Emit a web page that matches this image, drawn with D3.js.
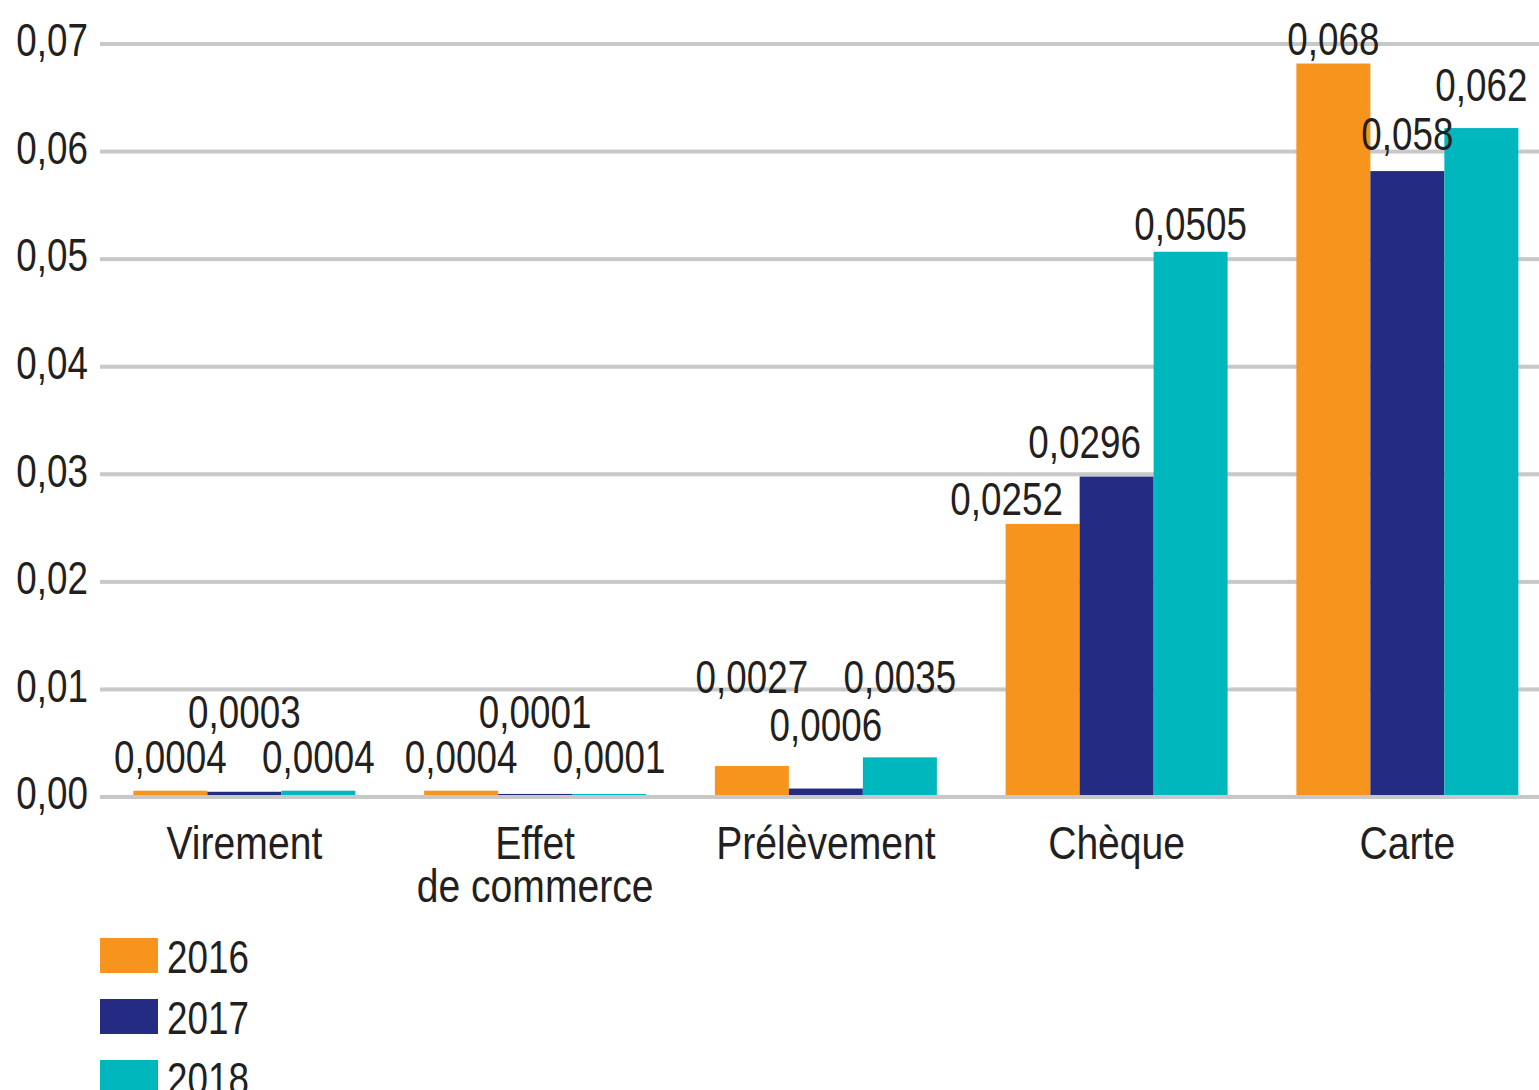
<!DOCTYPE html>
<html>
<head>
<meta charset="utf-8">
<script src="https://cdn.jsdelivr.net/npm/d3@7"></script>
<style>
  html, body { margin: 0; padding: 0; background: #ffffff; }
  svg { display: block; }
  text { font-family: "Liberation Sans", Arial, sans-serif; fill: #231f20; }
</style>
</head>
<body>
<svg id="chart" width="1539" height="1090"></svg>
<script>
// Payment instruments (category labels, "\n" splits a label over two lines)
const categories = ["Virement", "Effet\nde commerce", "Prélèvement", "Chèque", "Carte"];
const years = ["2016", "2017", "2018"];
const values2016 = [0.0004, 0.0004, 0.0027, 0.0252, 0.068];
const values2017 = [0.0003, 0.0001, 0.0006, 0.0296, 0.058];
const values2018 = [0.0004, 0.0001, 0.0035, 0.0505, 0.062];
const yTicks = [0, 0.01, 0.02, 0.03, 0.04, 0.05, 0.06, 0.07];
const colors = ["#f7941d", "#232b83", "#00b7bd"];

// Placement of each value label: [dx from bar centre, baseline height above bar top]
const labelOffsets = [
  [[0, 18], [0, 18], [0, 73], [-36, 9], [0, 9]],
  [[0, 64], [0, 66], [0, 48], [-32, 19], [0, 21]],
  [[0, 18], [0, 21], [0, 64], [0, 12], [0, 27]]
];

const series = [values2016, values2017, values2018];
const rows = categories.map((c, i) => ({ category: c, values: series.map(s => s[i]) }));

const fr = d3.formatLocale({ decimal: ",", thousands: " ", grouping: [3], currency: ["", " €"] });
const tickFmt = fr.format(".2f");
const valueFmt = fr.format("~g");

const FONT = 46;
const NUM_SQUEEZE = 0.8;   // condensed face look for figures
const WORD_SQUEEZE = 0.85; // and for words

// Narrow the glyphs of a text (or tspan) horizontally
function condense(sel, f) {
  sel.each(function () {
    const w = this.getComputedTextLength();
    this.setAttribute("textLength", (w * f).toFixed(2));
    this.setAttribute("lengthAdjust", "spacingAndGlyphs");
  });
}

const svg = d3.select("#chart");

const y = d3.scaleLinear().domain([0, 0.07]).range([795, 42]);
const x0 = d3.scaleBand().domain(categories).range([99, 1552.75]).paddingInner(0.2365).paddingOuter(0.2365 / 2);
const x1 = d3.scaleBand().domain(years).range([0, x0.bandwidth()]);

// Horizontal grid
svg.append("g").selectAll("rect").data(yTicks).join("rect")
  .attr("x", 100).attr("width", 1539 - 100)
  .attr("y", d => y(d)).attr("height", 4)
  .attr("fill", "#c8c8c8");

// Y axis labels
const yAxis = svg.append("g").attr("transform", "translate(88,0)")
  .call(d3.axisLeft(y).tickValues(yTicks).tickFormat(tickFmt).tickSize(0).tickPadding(0));
yAxis.select(".domain").remove();
yAxis.selectAll("text")
  .attr("font-size", FONT)
  .attr("font-family", null)
  .attr("fill", null)
  .attr("dy", "0.3em")
  .call(condense, NUM_SQUEEZE);

// Bars
const groups = svg.append("g").selectAll("g").data(rows).join("g")
  .attr("transform", d => `translate(${x0(d.category)},0)`);

groups.selectAll("rect").data(d => d.values.map((v, k) => ({ v, k }))).join("rect")
  .attr("x", d => x1(years[d.k]))
  .attr("width", x1.bandwidth())
  .attr("y", d => y(d.v))
  .attr("height", d => y(0) - y(d.v))
  .attr("fill", d => colors[d.k]);

// Value labels
groups.each(function (row, ci) {
  d3.select(this).selectAll("text").data(row.values.map((v, k) => ({ v, k }))).join("text")
    .attr("x", d => x1(years[d.k]) + x1.bandwidth() / 2 + labelOffsets[d.k][ci][0])
    .attr("y", d => y(d.v) - labelOffsets[d.k][ci][1])
    .attr("text-anchor", "middle")
    .attr("font-size", FONT)
    .text(d => valueFmt(d.v))
    .call(condense, NUM_SQUEEZE);
});

// Category axis
const xAxis = svg.append("g").attr("transform", `translate(0,${y(0)})`)
  .call(d3.axisBottom(x0).tickSize(0).tickPadding(0));
xAxis.select(".domain").remove();
xAxis.selectAll("text")
  .attr("font-size", FONT)
  .attr("font-family", null)
  .attr("fill", null)
  .attr("dy", null)
  .attr("y", 64)
  .text(null)
  .each(function (d) {
    const t = d3.select(this);
    d.split("\n").forEach((line, i) => {
      t.append("tspan").attr("x", 0).attr("dy", i === 0 ? 0 : 42.5).text(line);
    });
  });
xAxis.selectAll("tspan").call(condense, WORD_SQUEEZE);

// Legend
const legend = svg.append("g").selectAll("g").data(years).join("g")
  .attr("transform", (d, i) => `translate(100,${938 + i * 61})`);
legend.append("rect").attr("width", 58).attr("height", 35).attr("fill", (d, i) => colors[i]);
legend.append("text").attr("x", 67).attr("y", 35).attr("font-size", FONT).text(d => d)
  .call(condense, NUM_SQUEEZE);
</script>
</body>
</html>
